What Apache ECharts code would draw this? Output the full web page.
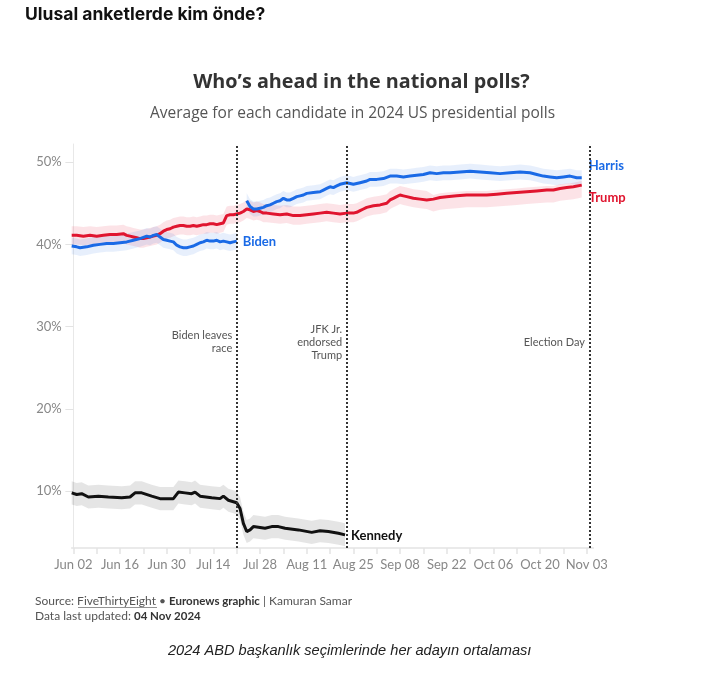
<!DOCTYPE html>
<html><head><meta charset="utf-8">
<script src="https://cdn.jsdelivr.net/npm/echarts@6/dist/echarts.min.js"></script>
<style>html,body{margin:0;padding:0;background:#fff}#chart{width:723px;height:674px}</style>
</head><body><div id="chart"></div>
<script>
// x values are days since Jun 02, 2024
const xTickDays = [0,14,28,42,56,70,84,98,112,126,140,154];
const xTickLabels = ['Jun 02','Jun 16','Jun 30','Jul 14','Jul 28','Aug 11','Aug 25','Sep 08','Sep 22','Oct 06','Oct 20','Nov 03'];
const xMinorTickDays = [0,7,14,21,28,35,42,49,56,63,70,77,84,91,98,105,112,119,126,133,140,147,154];
const yTickValues = [10,20,30,40,50];

const bidenDays = [-0.5,1,2,4,6,8,10,12,14,16,18,20,22,23,24,25,26,27,28,29,30,31,32,33,34,35,36,37,38,39,40,41,42,43,44,45,46,47,48,49];
const bidenPct  = [39.8,39.7,39.6,39.7,39.9,40.0,40.1,40.1,40.2,40.3,40.5,40.7,41.0,40.9,41.1,41.2,40.9,40.6,40.5,40.4,40.3,39.9,39.7,39.6,39.6,39.7,39.8,40.0,40.2,40.3,40.5,40.4,40.4,40.5,40.3,40.4,40.3,40.2,40.3,40.4];

const harrisDays = [52,53,54,55,56,57,58,59,60,61,62,63,64,65,66,67,68,69,70,72,74,75,76,77,78,79,80,81,82,83,84,85,86,88,89,91,93,95,97,99,101,103,105,107,109,111,113,116,119,122,125,128,131,134,137,139,141,143,145,147,149,151,152.5];
const harrisPct  = [45.3,44.6,44.3,44.3,44.4,44.5,44.7,44.8,45.0,45.2,45.3,45.6,45.4,45.4,45.6,45.8,45.9,46.0,46.2,46.3,46.4,46.6,46.8,47.0,46.9,47.1,47.3,47.4,47.5,47.4,47.3,47.4,47.5,47.7,47.9,47.9,48.0,48.3,48.3,48.2,48.3,48.4,48.5,48.7,48.6,48.7,48.7,48.8,48.9,48.8,48.7,48.6,48.7,48.8,48.7,48.5,48.3,48.2,48.1,48.2,48.3,48.1,48.1];

const trumpDays = [-0.5,1,3,5,7,9,11,13,15,16,17,18,19,20,21,22,23,24,25,26,27,28,29,30,31,32,33,34,35,36,37,38,39,40,41,42,43,44,45,46,47,48,49,50,51,52,53,54,55,56,57,58,60,62,64,66,68,70,72,74,76,78,80,82,84,85,86,87,88,90,92,94,95,96,97,98,99,100,102,104,106,108,110,112,115,118,121,124,127,130,133,136,139,142,144,146,148,150,152.5];
const trumpPct  = [41.1,41.1,41.0,41.1,41.0,41.1,41.2,41.2,41.3,41.1,41.0,40.9,40.8,40.7,40.7,40.8,40.9,41.0,41.1,41.3,41.6,41.8,41.9,42.1,42.2,42.3,42.3,42.2,42.2,42.3,42.2,42.3,42.4,42.4,42.5,42.5,42.4,42.5,42.6,43.5,43.6,43.6,43.7,43.8,44.0,44.3,44.2,44.0,44.1,44.0,43.8,43.8,43.7,43.6,43.7,43.5,43.5,43.6,43.7,43.8,43.9,43.8,43.7,43.8,43.8,43.9,44.1,44.3,44.5,44.7,44.8,45.0,45.4,45.6,45.8,46.0,45.9,45.8,45.6,45.5,45.4,45.5,45.7,45.8,45.9,46.0,46.0,46.0,46.1,46.2,46.3,46.4,46.5,46.6,46.6,46.8,46.9,47.0,47.2];

const kennedyDays = [-0.5,1,2.5,4.5,7.5,10.5,14.5,17,18.5,20.5,23.5,26,28.5,30,31.5,33.5,35.5,36.5,38,41.5,44,45,46.5,49,50,51,52,53,54,57.5,59.5,61.5,63.5,67.5,71.5,74,76.5,79.5,81.5];
const kennedyPct  = [9.8,9.6,9.7,9.3,9.4,9.3,9.2,9.3,9.8,9.8,9.4,9.1,9.1,9.1,9.9,9.8,9.7,9.9,9.4,9.2,9.1,9.4,8.9,8.6,7.9,6.1,5.1,5.3,5.7,5.5,5.7,5.7,5.5,5.3,5.0,5.2,5.1,4.9,4.7];

// uncertainty band margins (percentage points): [fromDay, above, below]
const bidenBand   = [[-1, 1.0, 1.0]];
const harrisBand  = [[0, 0.9, 0.9]];
const trumpBand   = [[-1, 1.1, 1.1], [108, 0.5, 1.5]];
const kennedyBand = [[-1, 1.4, 1.4]];

const eventDays   = [49, 82, 154.8];
const eventLabels = ['Biden leaves\nrace', 'JFK Jr.\nendorsed\nTrump', 'Election Day'];
const eventLabelY = 28.1;

const BLUE = '#1a6ae6', RED = '#e0152f', BLACK = '#111';
const FONT = 'Lato';

function pairs(days, vals){ return days.map((d,i)=>[d, vals[i]]); }
function margin(table, d){ let m = table[0]; for (const t of table) if (d >= t[0]) m = t; return m; }
function bandSeries(name, days, vals, table, color){
  const upper = days.map((d,i)=>[d, vals[i] + margin(table,d)[1]]);
  const lower = days.map((d,i)=>[d, vals[i] - margin(table,d)[2]]);
  return {type:'custom', name:name, silent:true, z:1, clip:true,
    data:[upper[0]], encode:{x:0, y:1},
    renderItem:(params, api)=>{
      const pts = upper.map(p=>api.coord(p)).concat(lower.slice().reverse().map(p=>api.coord(p)));
      return {type:'polygon', shape:{points:pts}, style:{fill:color}};
    }};
}
function lineSeries(name, days, vals, color, label, offset){
  return {type:'line', name:name, data:pairs(days, vals), showSymbol:false, z:3,
    lineStyle:{color:color, width:3}, itemStyle:{color:color},
    endLabel:{show:true, formatter:label, color:color, fontFamily:FONT, fontWeight:'bold', fontSize:13, offset:offset, distance:5}};
}

const series = [
  bandSeries('trumpB', trumpDays, trumpPct, trumpBand, 'rgba(232,40,70,0.13)'),
  bandSeries('bidenB', bidenDays, bidenPct, bidenBand, 'rgba(40,110,230,0.11)'),
  bandSeries('harrisB', harrisDays, harrisPct, harrisBand, 'rgba(40,110,230,0.11)'),
  bandSeries('kennedyB', kennedyDays, kennedyPct, kennedyBand, 'rgba(0,0,0,0.10)'),
  lineSeries('Trump', trumpDays, trumpPct, RED, 'Trump', [2, 13]),
  lineSeries('Biden', bidenDays, bidenPct, BLUE, 'Biden', [1, 1]),
  lineSeries('Harris', harrisDays, harrisPct, BLUE, 'Harris', [2, -12]),
  Object.assign(lineSeries('Kennedy', kennedyDays, kennedyPct, BLACK, 'Kennedy', [1, 1]), {
    markLine:{silent:true, symbol:'none', label:{show:false},
      lineStyle:{color:'#333', type:[2,2], width:2},
      data: eventDays.map(d=>({xAxis:d}))},
    markPoint:{silent:true, symbol:'circle', symbolSize:1, itemStyle:{color:'rgba(0,0,0,0)'},
      label:{show:true, position:'left', distance:4, align:'right', color:'#555', fontFamily:FONT, fontSize:11, lineHeight:13,
        formatter:p=>p.name},
      data: eventDays.map((d,i)=>({name:eventLabels[i], coord:[d, eventLabelY]}))}
  })
];

const chart = echarts.init(document.getElementById('chart'), null, {renderer:'canvas'});
chart.setOption({
  animation:false,
  backgroundColor:'#fff',
  title:[
    {text:'Who’s ahead in the national polls?', left:'center', top:67,
     textStyle:{fontFamily:'Open Sans', fontWeight:'bold', fontSize:19.8, color:'#333'}},
    {text:'Average for each candidate in 2024 US presidential polls', left:145, top:101,
     textStyle:{fontFamily:'Open Sans', fontWeight:'normal', fontSize:15.5, color:'#555'}}
  ],
  grid:{left:71.7, right:129.6, top:144, bottom:126},
  xAxis:{type:'value', min:-0.5, max:156,
    axisLine:{show:true, lineStyle:{color:'#e3e3e3', width:1.5}},
    axisTick:{show:true, customValues:xMinorTickDays, length:6, lineStyle:{color:'#e3e3e3', width:1.5}},
    axisLabel:{customValues:xTickDays, color:'#888', fontFamily:FONT, fontSize:13, margin:10,
      formatter:v=>{const i = xTickDays.indexOf(Math.round(v)); return i>=0 ? xTickLabels[i] : '';}},
    splitLine:{show:false}},
  yAxis:{type:'value', min:3.1, max:52.2,
    axisLine:{show:true, lineStyle:{color:'#e8e8e8', width:1}},
    axisTick:{show:true, customValues:yTickValues, length:8, lineStyle:{color:'#e3e3e3'}},
    axisLabel:{customValues:yTickValues, color:'#888', fontFamily:FONT, fontSize:13, margin:10,
      formatter:v=>Math.round(v)+'%'},
    splitLine:{show:false}},
  series:series,
  graphic:[
    {type:'text', left:25, top:6, style:{text:'Ulusal anketlerde kim önde?', font:'bold 17.5px Inter', fill:'#111'}},
    {type:'text', left:35, top:594, style:{
      text:'Source: {u|FiveThirtyEight} • {b|Euronews graphic} | Kamuran Samar\nData last updated: {b|04 Nov 2024}',
      font:'12px '+FONT, fill:'#555', lineHeight:15,
      rich:{u:{font:'12px '+FONT, fill:'#555'}, b:{font:'bold 11.5px '+FONT, fill:'#333'}}}},
    {type:'line', shape:{x1:78, y1:607.5, x2:157, y2:607.5}, style:{stroke:'#777', lineWidth:0.8}},
    {type:'text', left:168, top:643, style:{text:'2024 ABD başkanlık seçimlerinde her adayın ortalaması',
      font:'italic 14.6px "Liberation Sans"', fill:'#222'}}
  ]
});
</script></body></html>
